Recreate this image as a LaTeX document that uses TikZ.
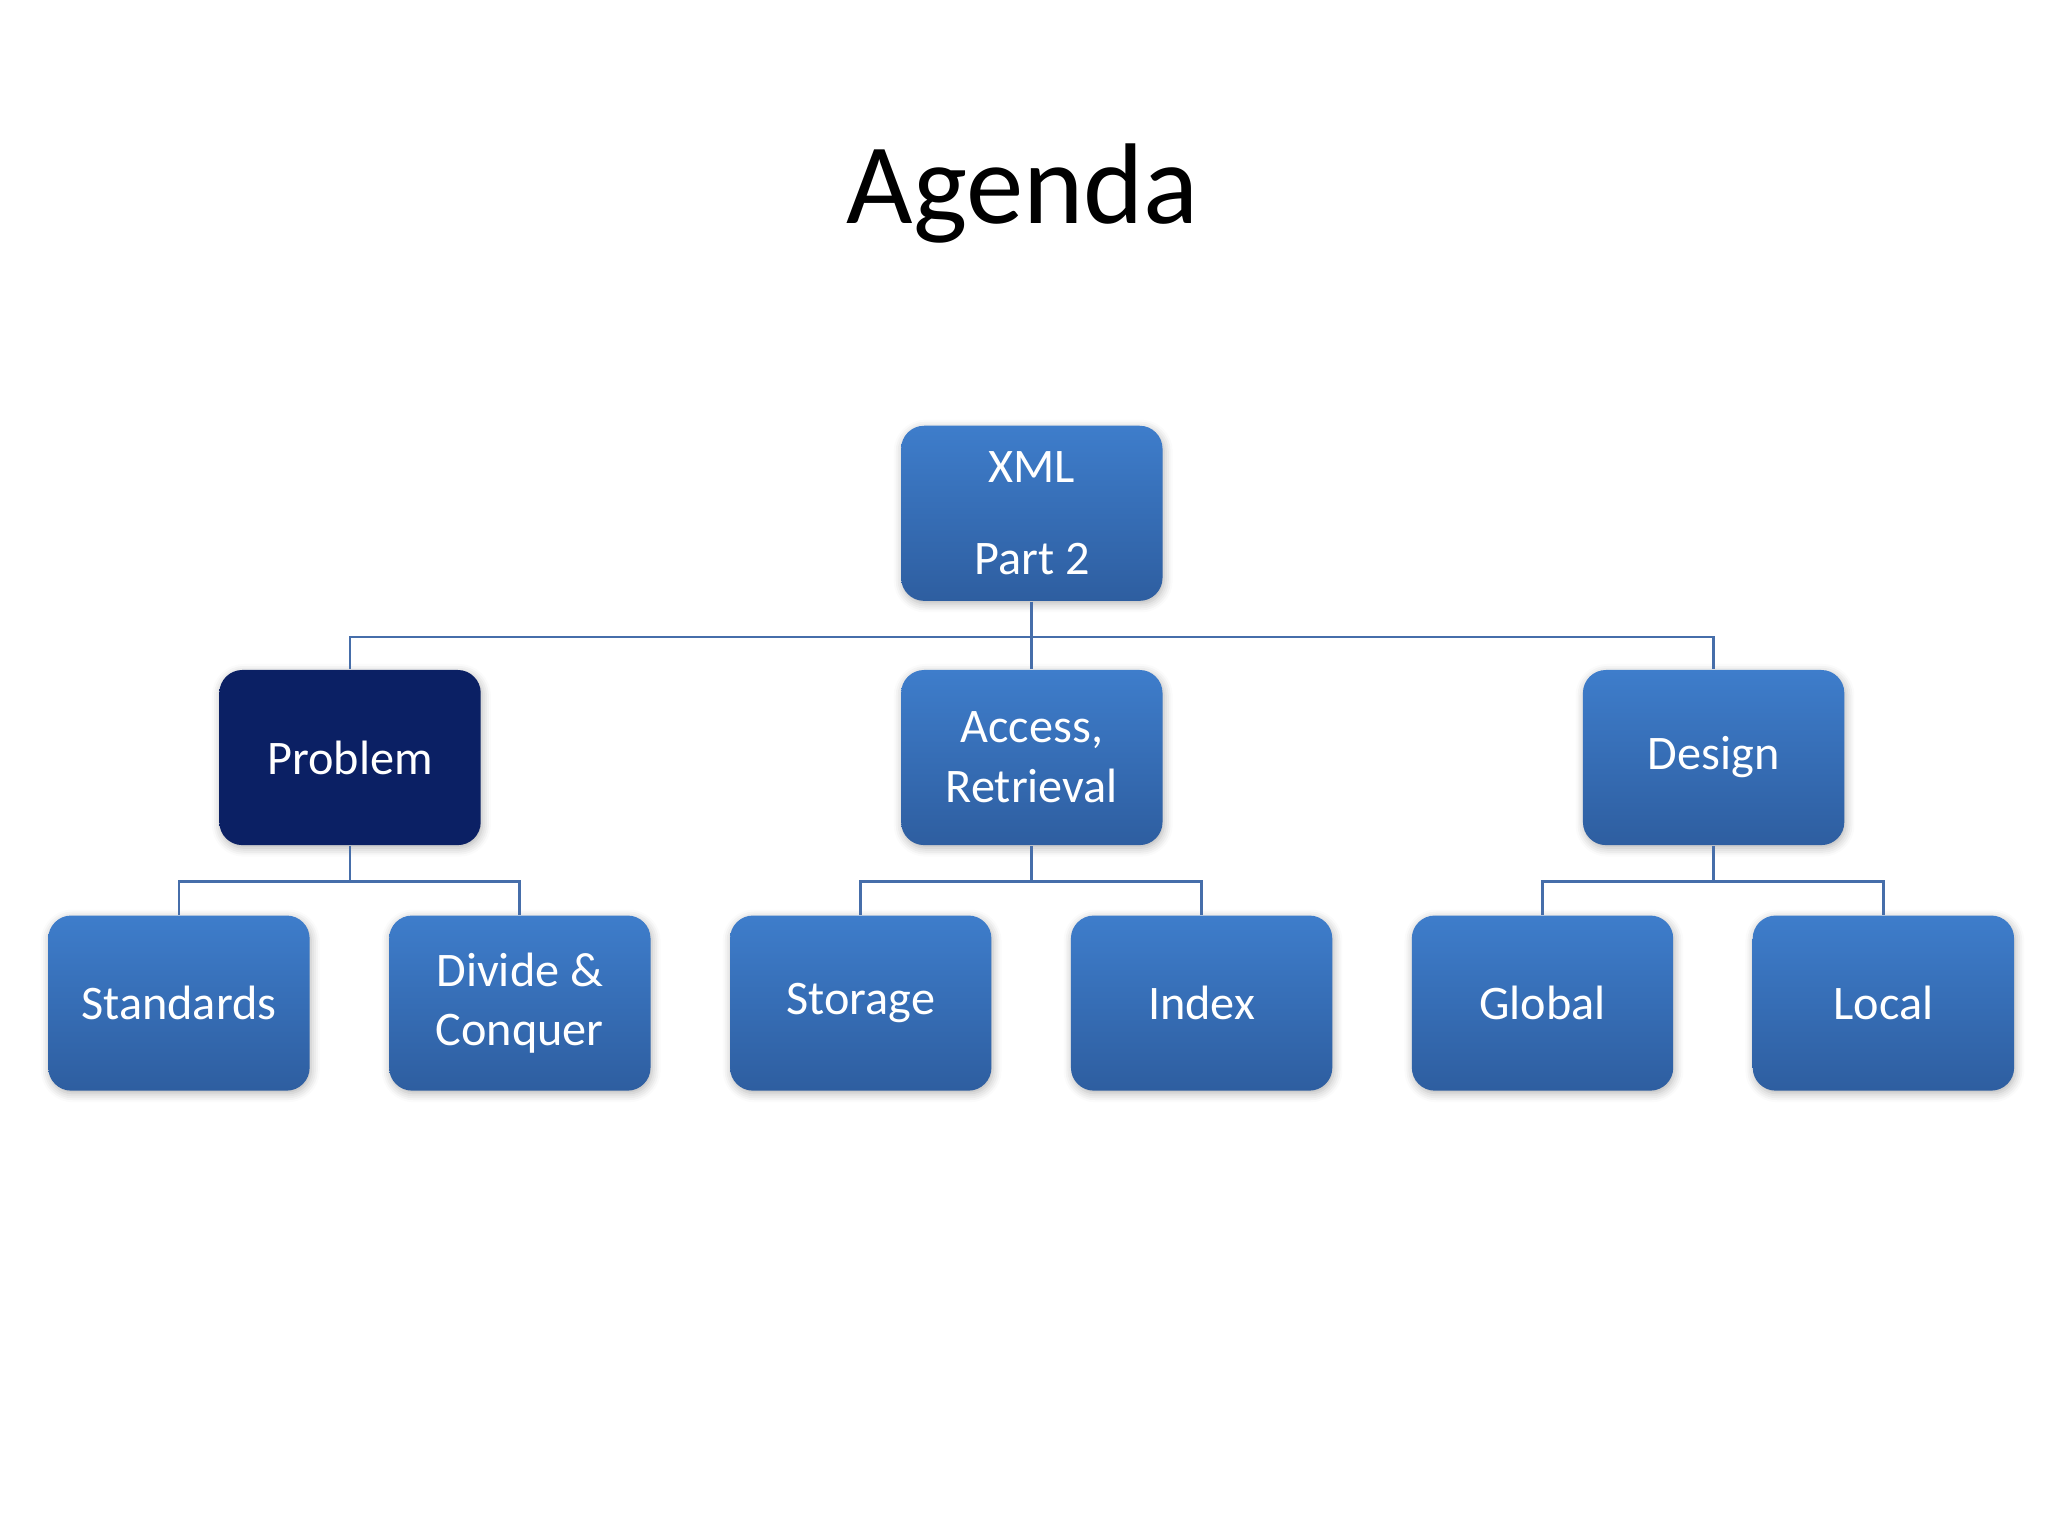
\documentclass[tikz,border=0pt]{standalone}
\usepackage{fontspec}
\setmainfont{Carlito}
\usetikzlibrary{positioning, shadows.blur}
\definecolor{BoxTop}{RGB}{62, 125, 203}
\definecolor{BoxBottom}{RGB}{46, 94, 160}
\definecolor{NavyDark}{RGB}{11, 32, 100}
\definecolor{LineBlue}{RGB}{70, 110, 170}
\tikzset{
  box/.style={rounded corners=5pt, minimum width=2cm, minimum height=1.34cm,
    top color=BoxTop, bottom color=BoxBottom, text=white, align=center,
    font=\fontsize{10.5pt}{13pt}\selectfont, blur shadow={shadow blur steps=5, shadow xshift=0.3pt, shadow yshift=-0.6pt, shadow opacity=30}},
  link/.style={draw=LineBlue, line width=0.6pt}
}
\begin{document}
\begin{tikzpicture}[x=0.01cm, y=-0.01cm]
    \useasboundingbox (0,0) rectangle (1568,1176);
    % Titel
    \node[font=\fontsize{25pt}{30pt}\selectfont] (title) at (783,148) {Agenda};

    % Wurzel
    \node[box, font=\fontsize{10.5pt}{20pt}\selectfont] (xml) at (790,393) {XML\\Part 2};

    % Zweite Ebene
    \node[box, top color=NavyDark, bottom color=NavyDark] (problem) at (268,580) {Problem};
    \node[box] (access) at (790,580) {Access,\\Retrieval};
    \node[box] (design) at (1312,580) {Design};

    % Dritte Ebene
    \node[box] (standards) at (137,768) {Standards};
    \node[box] (divide) at (398,768) {Divide \&\\Conquer};
    \node[box] (storage) at (659,768) {Storage};
    \node[box] (index) at (920,768) {Index};
    \node[box] (global) at (1181,768) {Global};
    \node[box] (local) at (1442,768) {Local};

    % Verbindungen
    \foreach \child in {problem, access, design}
        \draw[link] (xml.south) |- ++(0,27) -| (\child.north);
    \foreach \parent/\left/\right in {problem/standards/divide, access/storage/index, design/global/local} {
        \draw[link] (\parent.south) |- ++(0,27) -| (\left.north);
        \draw[link] (\parent.south) |- ++(0,27) -| (\right.north);
    }
\end{tikzpicture}
\end{document}
